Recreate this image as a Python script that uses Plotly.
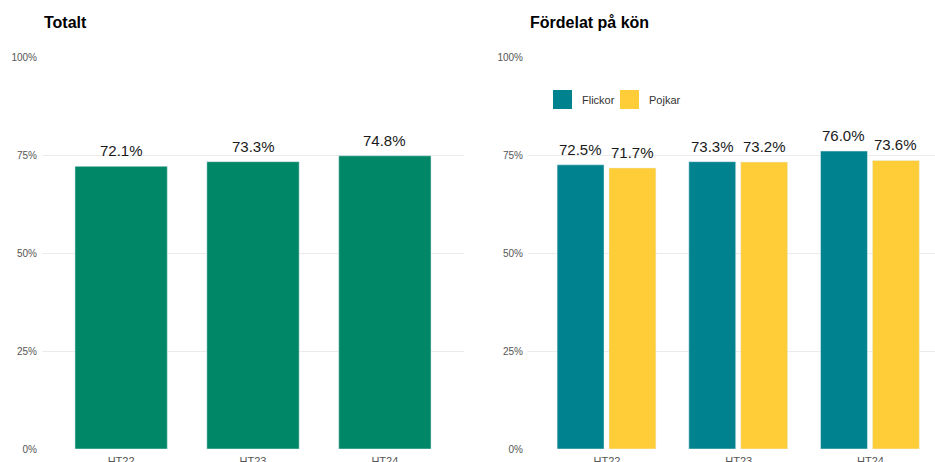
import plotly.graph_objects as go

# ---- data ----
categories = ["HT22", "HT23", "HT24"]
totalt = [72.1, 73.3, 74.8]
flickor = [72.5, 73.3, 76.0]
pojkar = [71.7, 73.2, 73.6]
y_ticks = [0, 25, 50, 75, 100]
y_ticktext = ["0%", "25%", "50%", "75%", "100%"]

GREEN = "#008767"
TEAL = "#00838F"
YELLOW = "#FFCD37"
FONT = "Liberation Sans, Arial, sans-serif"

W, H = 935, 462

def px_x(p):
    return p / W

def px_y(p):
    return 1 - p / H

fig = go.Figure()

fig.add_trace(go.Bar(x=categories, y=totalt, marker_color=GREEN, width=0.7,
                     xaxis="x", yaxis="y", showlegend=False))
fig.add_trace(go.Bar(x=categories, y=flickor, marker_color=TEAL, width=0.356,
                     offset=-0.379, xaxis="x2", yaxis="y2", name="Flickor",
                     showlegend=False))
fig.add_trace(go.Bar(x=categories, y=pojkar, marker_color=YELLOW, width=0.356,
                     offset=0.015, xaxis="x2", yaxis="y2", name="Pojkar",
                     showlegend=False))

annotations = []
label_font = dict(family=FONT, size=15, color="#1a1a1a")
for i, c in enumerate(categories):
    annotations.append(dict(x=i, y=totalt[i], xref="x", yref="y", text=f"{totalt[i]:.1f}%",
                            showarrow=False, yanchor="bottom", yshift=5, font=label_font))
    annotations.append(dict(x=i - 0.379 + 0.178, y=flickor[i], xref="x2", yref="y2",
                            text=f"{flickor[i]:.1f}%", showarrow=False, yanchor="bottom",
                            yshift=5, font=label_font))
    annotations.append(dict(x=i + 0.015 + 0.178, y=pojkar[i], xref="x2", yref="y2",
                            text=f"{pojkar[i]:.1f}%", showarrow=False, yanchor="bottom",
                            yshift=5, font=label_font))

title_font = dict(family=FONT, size=16, color="#000000")
annotations.append(dict(x=px_x(42), y=px_y(22), xref="paper", yref="paper", text="<b>Totalt</b>",
                        showarrow=False, xanchor="left", yanchor="middle", font=title_font))
annotations.append(dict(x=px_x(528), y=px_y(22), xref="paper", yref="paper",
                        text="<b>Fördelat på kön</b>", showarrow=False, xanchor="left",
                        yanchor="middle", font=title_font))

# legend (manual)
leg_font = dict(family=FONT, size=11, color="#333333")
shapes = []
for name, color, sx, tx in [("Flickor", TEAL, 553, 580), ("Pojkar", YELLOW, 620, 647)]:
    shapes.append(dict(type="rect", xref="paper", yref="paper", x0=px_x(sx), x1=px_x(sx + 19),
                       y0=px_y(109), y1=px_y(90), fillcolor=color, line=dict(width=0)))
    annotations.append(dict(x=px_x(tx), y=px_y(99.5), xref="paper", yref="paper", text=name,
                            showarrow=False, xanchor="left", yanchor="middle", font=leg_font))

yaxis_common = dict(range=[0, 100], tickvals=y_ticks, ticktext=y_ticktext, showgrid=True,
                    gridcolor="#EBEBEB", gridwidth=1, zeroline=False, showline=False, ticks="",
                    tickfont=dict(family=FONT, size=10, color="#555555"),
                    ticklabelstandoff=4, fixedrange=True,
                    domain=[13 / H, 405 / H])
xaxis_common = dict(showgrid=False, zeroline=False, showline=False, ticks="",
                    tickfont=dict(family=FONT, size=11, color="#555555"), type="category",
                    ticklabelstandoff=4, fixedrange=True)

fig.update_layout(
    width=W, height=H,
    margin=dict(l=0, r=0, t=0, b=0, autoexpand=False),
    paper_bgcolor="white", plot_bgcolor="white",
    barmode="overlay",
    showlegend=False,
    hovermode=False,
    xaxis=dict(**xaxis_common, domain=[px_x(42), px_x(464)], range=[-0.6, 2.6], anchor="y"),
    yaxis=dict(**yaxis_common, anchor="x"),
    xaxis2=dict(**xaxis_common, domain=[px_x(528), 1.0], range=[-0.6, 2.49], anchor="y2"),
    yaxis2=dict(**yaxis_common, anchor="x2"),
    annotations=annotations,
    shapes=shapes,
)

fig.write_html("out.html", config={"displayModeBar": False, "staticPlot": True},
               post_script="document.body.style.margin='0';document.body.style.overflow='hidden';")
